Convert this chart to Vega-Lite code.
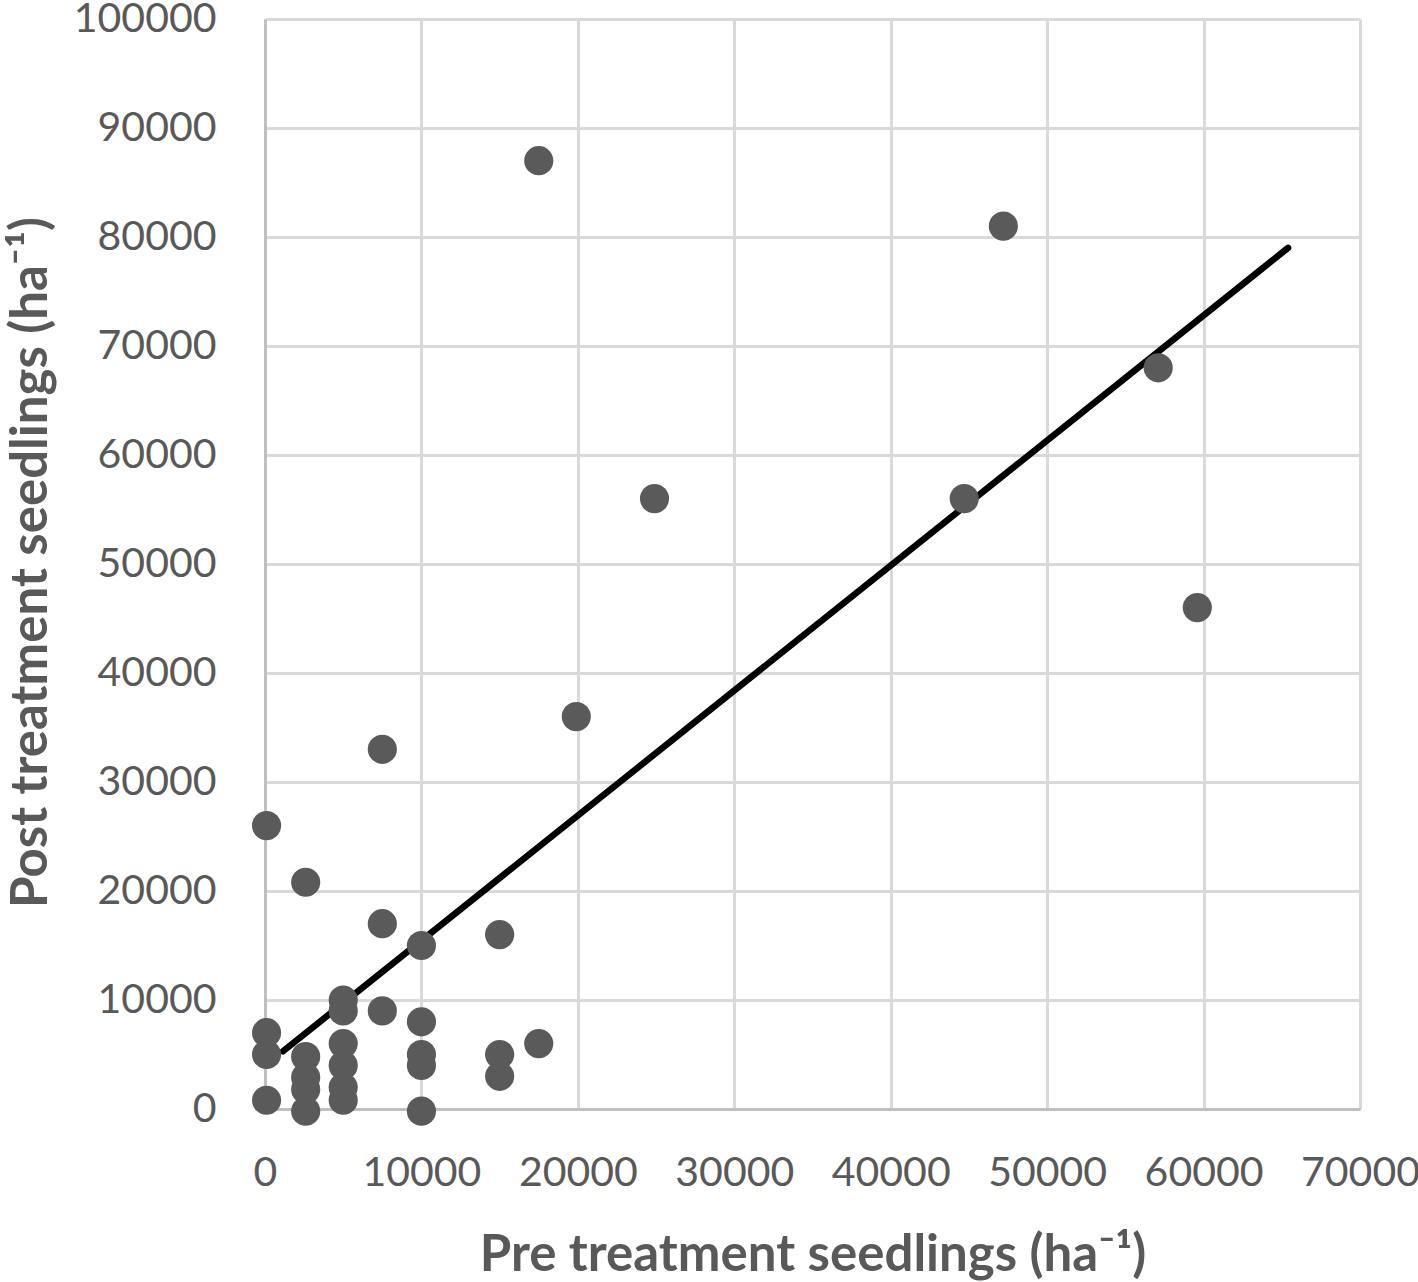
{
  "$schema": "https://vega.github.io/schema/vega-lite/v6.json",
  "width": 1095,
  "height": 1090,
  "autosize": {"type": "none"},
  "padding": {"left": 265, "top": 19, "right": 58, "bottom": 173},
  "background": "white",
  "config": {
    "view": {"stroke": null},
    "axis": {
      "labelFont": "Lato",
      "labelFontSize": 41,
      "labelColor": "#595959",
      "labelOverlap": false,
      "labelBound": false,
      "labelFlush": false,
      "titleFont": "Lato",
      "titleFontSize": 51,
      "titleFontWeight": "bold",
      "titleColor": "#595959",
      "gridColor": "#d9d9d9",
      "gridWidth": 3,
      "domainColor": "#bfbfbf",
      "domainWidth": 3,
      "ticks": false
    }
  },
  "datasets": {
    "pts": [
      {"pre": 100, "post": 26000},
      {"pre": 100, "post": 7000},
      {"pre": 100, "post": 5000},
      {"pre": 100, "post": 800},
      {"pre": 2600, "post": 20800},
      {"pre": 2600, "post": 4800},
      {"pre": 2600, "post": 2900},
      {"pre": 2600, "post": 1800},
      {"pre": 2600, "post": -200},
      {"pre": 5000, "post": 10000},
      {"pre": 5000, "post": 9000},
      {"pre": 5000, "post": 6000},
      {"pre": 5000, "post": 4000},
      {"pre": 5000, "post": 2000},
      {"pre": 5000, "post": 800},
      {"pre": 7500, "post": 33000},
      {"pre": 7500, "post": 17000},
      {"pre": 7500, "post": 9000},
      {"pre": 10000, "post": 15000},
      {"pre": 10000, "post": 8000},
      {"pre": 10000, "post": 5000},
      {"pre": 10000, "post": 4000},
      {"pre": 10000, "post": -200},
      {"pre": 15000, "post": 16000},
      {"pre": 15000, "post": 5000},
      {"pre": 15000, "post": 3000},
      {"pre": 17500, "post": 87000},
      {"pre": 17500, "post": 6000},
      {"pre": 19900, "post": 36000},
      {"pre": 24900, "post": 56000},
      {"pre": 44700, "post": 56000},
      {"pre": 47200, "post": 81000},
      {"pre": 57100, "post": 68000},
      {"pre": 59600, "post": 46000}
    ],
    "trend": [
      {"pre": 1150, "post": 5300},
      {"pre": 65400, "post": 79000}
    ]
  },
  "layer": [
    {
      "data": {"name": "trend"},
      "mark": {"type": "line", "color": "#000000", "strokeWidth": 6.5, "strokeCap": "round"},
      "encoding": {
        "x": {
          "field": "pre", "type": "quantitative",
          "scale": {"domain": [0, 70000], "nice": false, "zero": false},
          "axis": {
            "values": [0, 10000, 20000, 30000, 40000, 50000, 60000, 70000],
            "format": "d",
            "title": "Pre treatment seedlings (ha⁻¹)",
            "labelPadding": 44,
            "titleBaseline": "alphabetic",
            "titleY": 161
          }
        },
        "y": {
          "field": "post", "type": "quantitative",
          "scale": {"domain": [0, 100000], "nice": false, "zero": false},
          "axis": {
            "values": [0, 10000, 20000, 30000, 40000, 50000, 60000, 70000, 80000, 90000, 100000],
            "format": "d",
            "title": "Post treatment seedlings (ha⁻¹)",
            "labelPadding": 49,
            "titleX": -208,
            "titleY": 543,
            "titleBaseline": "bottom"
          }
        }
      }
    },
    {
      "data": {"name": "pts"},
      "mark": {"type": "circle", "size": 850, "color": "#5a5a5a", "opacity": 1},
      "encoding": {
        "x": {"field": "pre", "type": "quantitative"},
        "y": {"field": "post", "type": "quantitative"}
      }
    }
  ]
}
